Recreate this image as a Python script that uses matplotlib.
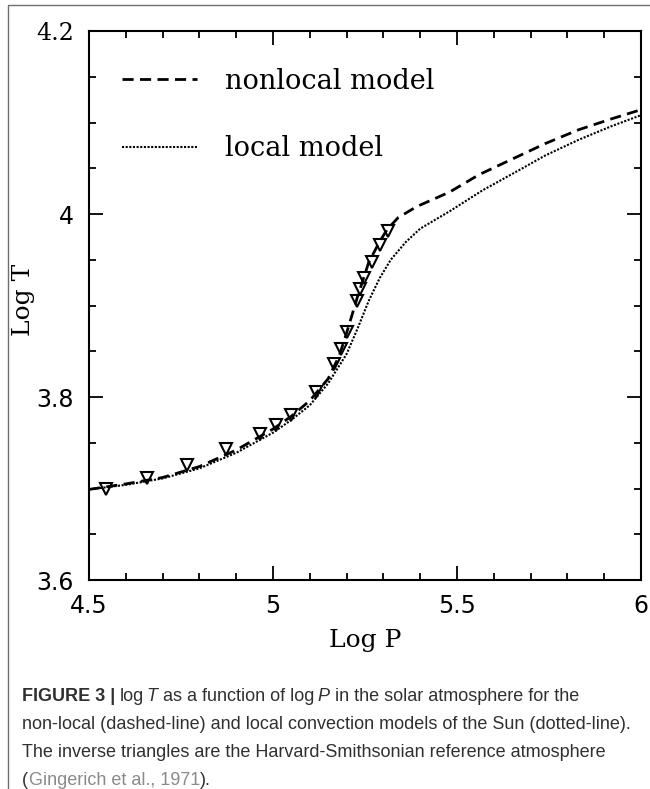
import matplotlib
matplotlib.use("Agg")
import matplotlib.pyplot as plt
from matplotlib.patches import Rectangle
from matplotlib.ticker import MultipleLocator, FixedLocator

# ---------------- data ----------------
logP_nonlocal = [4.50, 4.60, 4.70, 4.80, 4.90, 5.00, 5.05, 5.10, 5.15, 5.18,
                 5.20, 5.23, 5.26, 5.29, 5.31, 5.34, 5.39, 5.48, 5.56, 5.65,
                 5.74, 5.83, 5.92, 6.00]
logT_nonlocal = [3.699, 3.705, 3.712, 3.724, 3.742, 3.765, 3.779, 3.796, 3.820, 3.845,
                 3.870, 3.910, 3.947, 3.970, 3.983, 3.996, 4.008, 4.024, 4.043, 4.060,
                 4.077, 4.092, 4.104, 4.114]

logP_local = [4.50, 4.60, 4.70, 4.80, 4.90, 5.00, 5.05, 5.10, 5.15, 5.20,
              5.23, 5.26, 5.29, 5.32, 5.36, 5.40, 5.48, 5.57, 5.66, 5.74,
              5.83, 5.92, 6.00]
logT_local = [3.699, 3.704, 3.711, 3.722, 3.739, 3.761, 3.775, 3.791, 3.815, 3.847,
              3.875, 3.905, 3.930, 3.950, 3.969, 3.984, 4.003, 4.026, 4.046, 4.064,
              4.081, 4.096, 4.108]

logP_hsra = [4.545, 4.657, 4.766, 4.872, 4.966, 5.009, 5.049, 5.117, 5.167, 5.186,
             5.200, 5.227, 5.236, 5.248, 5.270, 5.291, 5.313]
logT_hsra = [3.699, 3.712, 3.726, 3.743, 3.760, 3.769, 3.780, 3.805, 3.836, 3.853,
             3.871, 3.905, 3.918, 3.930, 3.948, 3.966, 3.981]

series_labels = ["nonlocal model", "local model"]
xticks = [4.5, 5.0, 5.5, 6.0]
xtick_labels = ["4.5", "5", "5.5", "6"]
yticks = [3.6, 3.8, 4.0, 4.2]
ytick_labels = ["3.6", "3.8", "4", "4.2"]
xlabel = "Log P"
ylabel = "Log T"

# ---------------- figure ----------------
W, H = 650, 789
fig = plt.figure(figsize=(W / 100, H / 100), dpi=100)
fig.patch.set_facecolor("white")

# outer thin frame
fig.patches.append(Rectangle((8 / W, -0.05), 1.2, 1.05 - 4.5 / H,
                             transform=fig.transFigure, fill=False,
                             edgecolor="#6e6e6e", linewidth=1.0, clip_on=False))

ax = fig.add_axes([89 / W, (H - 580) / H, 552 / W, 549 / H])

ax.plot(logP_nonlocal, logT_nonlocal, color="black", lw=2.0,
        linestyle=(0, (4.0, 2.3)), label=series_labels[0])
ax.plot(logP_local, logT_local, color="black", lw=1.5,
        linestyle=(0, (1, 0.75)), label=series_labels[1])
ax.plot(logP_hsra, logT_hsra, linestyle="none", marker="v", ms=9,
        mfc="none", mec="black", mew=1.5, label="_nolegend_")

ax.set_xlim(4.5, 6.0)
ax.set_ylim(3.6, 4.2)
ax.xaxis.set_major_locator(FixedLocator(xticks))
ax.yaxis.set_major_locator(FixedLocator(yticks))
ax.xaxis.set_minor_locator(MultipleLocator(0.1))
ax.yaxis.set_minor_locator(MultipleLocator(0.05))
ax.set_xticklabels(xtick_labels)
ax.set_yticklabels(ytick_labels)

for s in ax.spines.values():
    s.set_linewidth(1.5)
ax.tick_params(which="both", direction="in", top=True, right=True,
               width=1.3, color="black")
ax.tick_params(which="major", length=10)
ax.tick_params(which="minor", length=5)
ax.tick_params(axis="y", which="major", pad=11, labelsize=17)
ax.tick_params(axis="x", which="major", pad=10, labelsize=17)
for lab in ax.get_xticklabels() + ax.get_yticklabels():
    lab.set_fontfamily("DejaVu Sans")
# the top label is set in a serif face in the reference
ax.get_yticklabels()[-1].set_fontfamily("DejaVu Serif")

ax.set_xlabel(xlabel, family="DejaVu Serif", fontsize=18)
ax.set_ylabel(ylabel, family="DejaVu Serif", fontsize=18)
ax.xaxis.set_label_coords(0.5, -0.089)
ax.yaxis.set_label_coords(-0.097, 0.51)

leg = ax.legend(loc="upper left", bbox_to_anchor=(0.06, 0.933), frameon=False,
                prop={"family": "DejaVu Serif", "size": 19.5},
                handlelength=2.75, handletextpad=1.05, labelspacing=1.5,
                borderpad=0, borderaxespad=0)

# ---------------- caption ----------------
cap_color = "#303030"
link_color = "#8a8a8a"
cap_size = 13
cap_font = "Liberation Sans"
x0 = 22 / W
base = [701, 729, 757, 785]
renderer = fig.canvas.get_renderer()


def text_width(s, **kw):
    t = fig.text(0, 0, s, family=cap_font, fontsize=cap_size, **kw)
    w = t.get_window_extent(renderer).width
    t.remove()
    return w


space_w = (text_width("x x") - text_width("xx")) * 0.85


def draw_pieces(y_px, pieces):
    x = x0 * W
    for txt, kw, gap in pieces:
        t = fig.text(x / W, 1 - y_px / H, txt, family=cap_font, fontsize=cap_size,
                     va="baseline", **kw)
        x += t.get_window_extent(renderer).width + gap * space_w


normal = {"color": cap_color}
bold = {"color": cap_color, "fontweight": "bold"}
ital = {"color": cap_color, "style": "italic"}

draw_pieces(base[0], [
    ("FIGURE 3 |", bold, 1),
    ("log", normal, 0.7),
    ("T", ital, 1.35),
    ("as a function of log", normal, 0.55),
    ("P", ital, 1.35),
    ("in the solar atmosphere for the", normal, 0),
])
fig.text(x0, 1 - base[1] / H,
         "non-local (dashed-line) and local convection models of the Sun (dotted-line).",
         family=cap_font, fontsize=cap_size, color=cap_color, va="baseline")
fig.text(x0, 1 - base[2] / H,
         "The inverse triangles are the Harvard-Smithsonian reference atmosphere",
         family=cap_font, fontsize=cap_size, color=cap_color, va="baseline")
draw_pieces(base[3], [
    ("(", normal, 0.1),
    ("Gingerich et al., 1971", {"color": link_color}, 0.1),
    (").", normal, 0),
])

fig.savefig("out.png", dpi=100, facecolor="white")
